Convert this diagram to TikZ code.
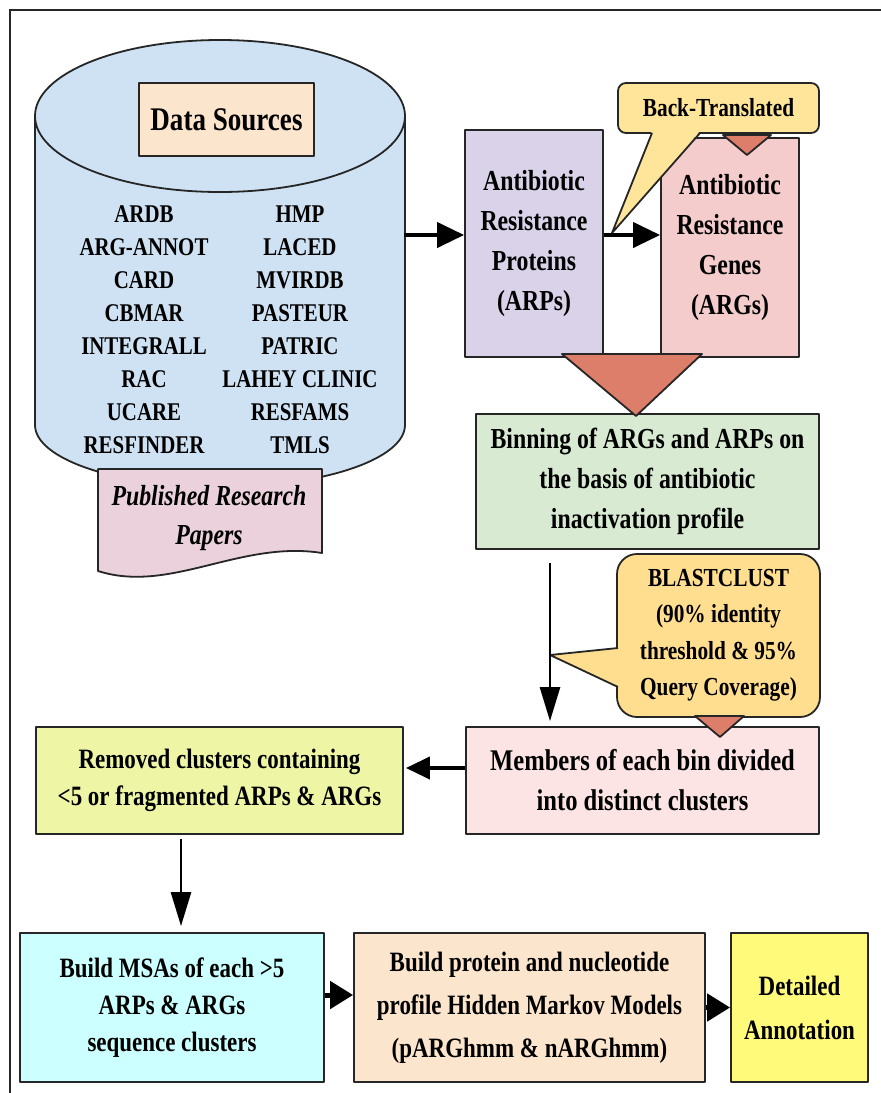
\documentclass[tikz,border=0pt]{standalone}
\usepackage{fontspec}
\setmainfont{Liberation Serif}[FakeStretch=0.82]
\usetikzlibrary{arrows.meta,calc}

\definecolor{cylblue}{HTML}{CFE2F3}
\definecolor{dspeach}{HTML}{FCE5CD}
\definecolor{docpink}{HTML}{EAD1DC}
\definecolor{arpcol}{HTML}{D9D2E9}
\definecolor{argcol}{HTML}{F4CCCC}
\definecolor{callcol}{HTML}{FFE599}
\definecolor{blastcol}{HTML}{FFDE8F}
\definecolor{tricol}{HTML}{DD7E6B}
\definecolor{bincol}{HTML}{D9EAD3}
\definecolor{memcol}{HTML}{FCE4E4}
\definecolor{remcol}{HTML}{EEF6A6}
\definecolor{msacol}{HTML}{CCFFFF}
\definecolor{hmmcol}{HTML}{FCE5CD}
\definecolor{detcol}{HTML}{FFFA7A}
\definecolor{edge}{HTML}{262626}

\begin{document}
\begin{tikzpicture}[x=1pt,y=-1pt,
  outline/.style={draw=edge, line width=1.8pt, line join=round},
  box/.style={outline, align=center, inner sep=0pt, text=black,
    font=\bfseries\fontsize{29}{40}\selectfont},
  listtxt/.style={align=center, inner sep=0pt,
    font=\bfseries\fontsize{25.5}{33}\selectfont},
  tri/.style={outline, fill=tricol},
  bigarrow/.style={line width=4pt, -{Triangle[length=27pt,width=25pt]}},
  midarrow/.style={line width=4pt, -{Triangle[length=24pt,width=22pt]}},
  thinarrow/.style={line width=2.6pt, -{Triangle[length=34pt,width=20pt]}},
  fatarrow/.style={line width=5pt, -{Triangle[length=23pt,width=27pt]}}
]
\useasboundingbox (0,0) rectangle (881,1093);
\fill[white] (0,0) rectangle (881,1093);

% page frame (top and left rules)
\draw[line width=1.4pt, draw=edge] (10,1093) -- (10,10) -- (881,10);

% database cylinder
\draw[outline, fill=cylblue] (35,116) -- (35,425)
  arc[start angle=180, end angle=360, x radius=185pt, y radius=62pt] -- (405,116);
\draw[outline, fill=cylblue] (220,116) ellipse[x radius=185pt, y radius=76pt];

\node[box, fill=dspeach, minimum width=175pt, minimum height=73pt,
  font=\bfseries\fontsize{33}{40}\selectfont] (ds) at (226.5,119.5) {Data Sources};

\node[listtxt] (dbleft) at (144,330) {ARDB\\ARG-ANNOT\\CARD\\CBMAR\\INTEGRALL\\RAC\\UCARE\\RESFINDER};
\node[listtxt] (dbright) at (300,330) {HMP\\LACED\\MVIRDB\\PASTEUR\\PATRIC\\LAHEY CLINIC\\RESFAMS\\TMLS};

% document shape
\draw[outline, fill=docpink] (98,469) -- (322,469) -- (322,553)
  .. controls (240,540) and (170,594) .. (98,571) -- cycle;
\node[align=center, inner sep=0pt, font=\bfseries\itshape\fontsize{29}{39}\selectfont]
  (papers) at (209,518) {Published Research\\Papers};

% protein / gene boxes
\node[box, fill=arpcol, minimum width=138pt, minimum height=227pt] (arps) at (534,243.5)
  {Antibiotic\\Resistance\\Proteins\\(ARPs)};
\node[box, fill=argcol, minimum width=138pt, minimum height=219pt] (args) at (730,247.5)
  {Antibiotic\\Resistance\\Genes\\(ARGs)};

% back-translation callout
\node[box, fill=callcol, rounded corners=8pt, minimum width=201pt, minimum height=50pt,
  font=\bfseries\fontsize{26}{36}\selectfont] (backtr) at (718.5,108) {Back-Translated};
\fill[callcol] (652,131) -- (612,233) -- (700,131) -- cycle;
\draw[outline] (652,133) -- (612,233) -- (700,133);
\draw[tri] (723,135) -- (771,135) -- (747,155) -- cycle;

\coordinate (cylE) at (404,235);
\draw[bigarrow] (cylE) -- (cylE -| arps.west);
\draw[bigarrow] ($(arps.east)+(0,-8.5)$) -- ($(args.west |- arps.east)+(0,-8.5)$);

% binning
\node[box, fill=bincol, minimum width=343pt, minimum height=135pt] (binning) at (647.5,481.5)
  {Binning of ARGs and ARPs on\\the basis of antibiotic\\inactivation profile};
\draw[tri] (562,354) -- (702,354) -- (636,416) -- cycle;

% clustering callout
\node[box, fill=blastcol, rounded corners=20pt, minimum width=203pt, minimum height=163pt,
  font=\bfseries\fontsize{26}{36.5}\selectfont] (blast) at (718.5,635.5)
  {BLASTCLUST\\(90\% identity\\threshold \& 95\%\\Query Coverage)};
\fill[blastcol] (620,648) -- (550,655) -- (620,687) -- cycle;
\draw[outline] (618,648) -- (550,655) -- (618,687);

% members / removed
\node[box, fill=memcol, minimum width=353pt, minimum height=107pt,
  font=\bfseries\fontsize{30}{40}\selectfont] (members) at (642.5,780.5)
  {Members of each bin divided\\into distinct clusters};
\draw[tri] (695,716) -- (744,716) -- (720,737) -- cycle;

\node[box, fill=remcol, minimum width=367pt, minimum height=107pt,
  font=\bfseries\fontsize{28}{37}\selectfont] (removed) at (219.5,780.5)
  {Removed clusters containing\\<5 or fragmented ARPs \& ARGs};

\coordinate (vx) at (550,0);
\draw[thinarrow] ($(binning.south -| vx)+(0,13)$) -- ($(members.north -| vx)+(0,-5)$);
\draw[midarrow] ($(members.west)+(0,-12.5)$) -- ($(removed.east)+(2,-12.5)$);

% bottom row
\node[box, fill=msacol, minimum width=304pt, minimum height=149pt,
  font=\bfseries\fontsize{28}{37}\selectfont] (msa) at (172,1007.5)
  {Build MSAs of each >5\\ARPs \& ARGs\\sequence clusters};
\node[box, fill=hmmcol, minimum width=351pt, minimum height=149pt,
  font=\bfseries\fontsize{28}{43}\selectfont] (hmm) at (529.5,1007.5)
  {Build protein and nucleotide\\profile Hidden Markov Models\\(pARGhmm \& nARGhmm)};
\node[box, fill=detcol, minimum width=137pt, minimum height=149pt,
  font=\bfseries\fontsize{28}{44}\selectfont] (detail) at (799.5,1007.5)
  {Detailed\\Annotation};

\coordinate (vx2) at (181,0);
\draw[thinarrow] ($(removed.south -| vx2)+(0,4)$) -- ($(msa.north -| vx2)+(0,-6)$);
\draw[fatarrow] ($(msa.east)+(0,-12.5)$) -- ($(hmm.west)+(0,-12.5)$);
\draw[fatarrow] (hmm.east) -- (detail.west);
\end{tikzpicture}
\end{document}
